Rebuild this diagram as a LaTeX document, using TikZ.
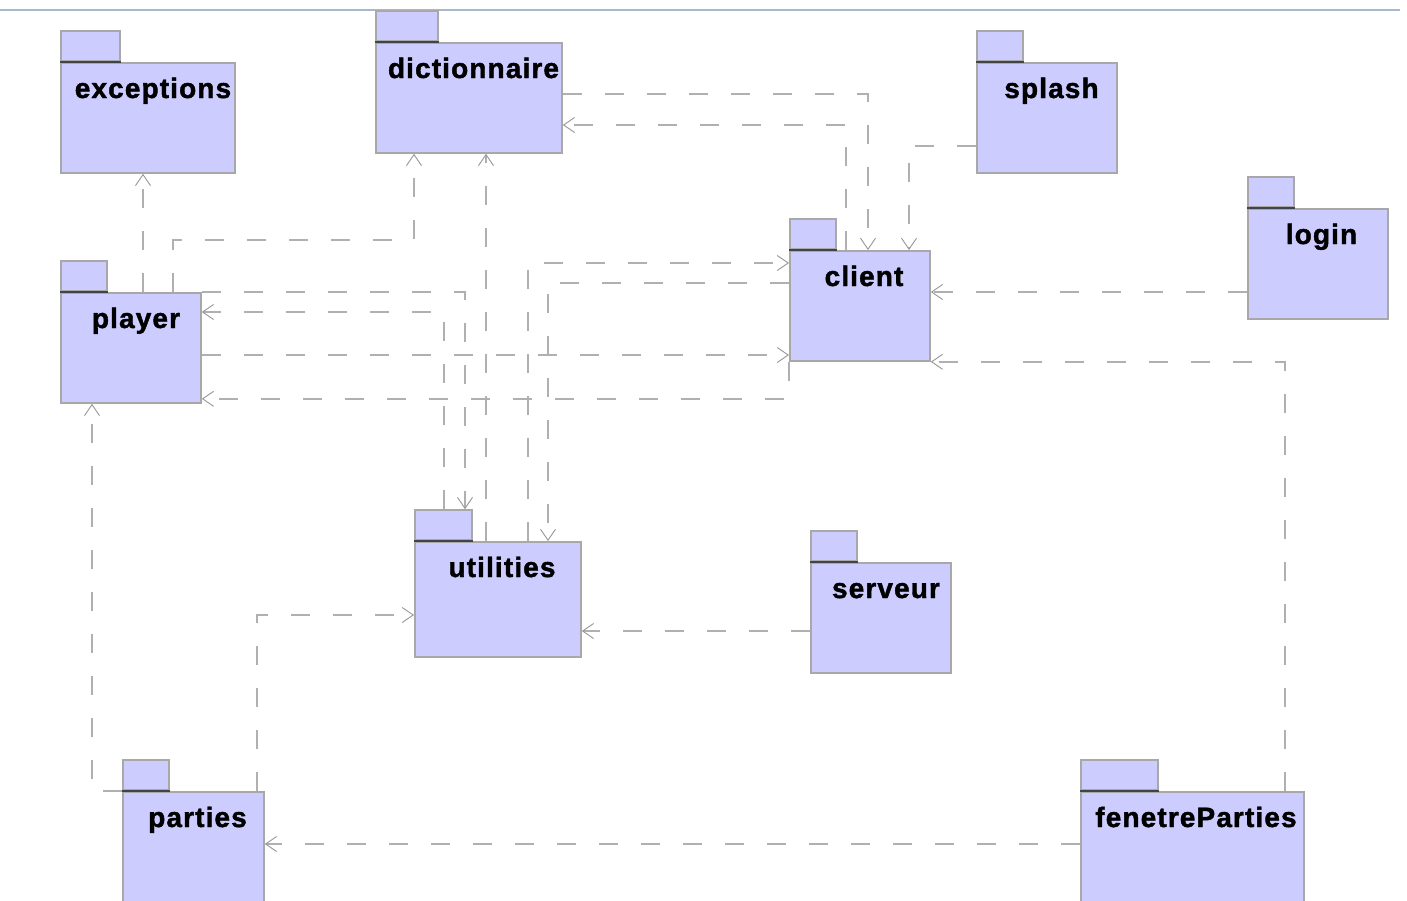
\documentclass[tikz,border=0pt]{standalone}
\usepackage{fontspec}
\usetikzlibrary{arrows.meta,calc}
\newfontfamily\pkgfont{Liberation Sans}[LetterSpace=4,FakeBold=1.5]
\definecolor{pkgfill}{HTML}{CCCCFF}
\definecolor{pkgedge}{HTML}{A8A8A8}
\definecolor{tabline}{HTML}{404448}
\definecolor{deplink}{HTML}{B0B0B0}
\definecolor{topline}{HTML}{A9B8CC}
\tikzset{
  pkgbody/.style={draw=pkgedge, fill=pkgfill, line width=1.8pt, rectangle,
    inner sep=0pt, anchor=north west},
  pkgtab/.style={draw=pkgedge, fill=pkgfill, line width=1.8pt, rectangle,
    inner sep=0pt, anchor=south west},
  pkglabel/.style={anchor=base, inner sep=0pt,
    font=\pkgfont\bfseries\fontsize{28}{30}\selectfont},
  dep/.style={draw=deplink, line width=1.4pt, dash pattern=on 19pt off 23pt,
    -{Straight Barb[length=11pt,width=15pt,line width=0.9pt,color=deplink!85!black]}},
}
% \umlpkg{name}{x}{y}{body w}{body h}{tab w}{text centre x}{label}
\newcommand{\umlpkg}[8]{%
  \node[pkgbody, minimum width=#4pt, minimum height=#5pt] (#1) at (#2,#3) {};
  \node[pkgtab, minimum width=#6pt, minimum height=30pt] (#1-tab) at (#2,#3) {};
  \draw[tabline, line width=1.6pt] (#1-tab.south west) -- (#1-tab.south east);
  \node[pkglabel] (#1-label) at (#7,#3+36) {#8};
}
\begin{document}
\begin{tikzpicture}[x=1pt,y=-1pt]
  \useasboundingbox (0,0) rectangle (1407,900);
  \draw[topline, line width=1.2pt] (0,10) -- (1400,10);

  % packages
  \umlpkg{exceptions}{60}{62}{174}{110}{59}{153}{exceptions}
  \umlpkg{dictionnaire}{375}{42}{186}{110}{62}{473.5}{dictionnaire}
  \umlpkg{splash}{976}{62}{140}{110}{46}{1051.5}{splash}
  \umlpkg{login}{1247}{208}{140}{110}{46}{1321.5}{login}
  \umlpkg{client}{789}{250}{140}{110}{46}{864}{client}
  \umlpkg{player}{60}{292}{140}{110}{46}{136}{player}
  \umlpkg{utilities}{414}{541}{166}{115}{57}{502}{utilities}
  \umlpkg{serveur}{810}{562}{140}{110}{46}{886}{serveur}
  \umlpkg{parties}{122}{791}{141}{120}{46}{197.5}{parties}
  \umlpkg{fenetreParties}{1080}{791}{223}{120}{77}{1196}{fenetreParties}

  % dependencies
  \draw[dep] ($(player.north west)+(83,0)$) -- ($(exceptions.south west)+(83,0)$);
  \draw[dep] ($(player.north west)+(113,0)$) -- ++(0,-52) -| ($(dictionnaire.south west)+(39,0)$);
  \draw[dep] ($(dictionnaire.north east)+(0,52)$) -| ($(client.north west)+(79,0)$);
  \draw[dep] ($(client.north west)+(57,0)$) |- ($(dictionnaire.north east)+(0,83)$);
  \draw[dep] ($(splash.north west)+(0,84)$) -| ($(client.north west)+(120,0)$);
  \draw[dep] ($(login.north west)+(0,84)$) -- ($(client.north east)+(0,42)$);
  \draw[dep] ($(fenetreParties.north west)+(205,0)$) |- (client.south east);
  \draw[dep] ($(fenetreParties.north west)+(0,53)$) -- ($(parties.north east)+(0,53)$);
  \draw[dep] (parties.north west) -| ($(player.south west)+(32,0)$);
  \draw[dep] ($(parties.north west)+(135,0)$) |- ($(utilities.north west)+(0,74)$);
  \draw[dep] ($(serveur.north west)+(0,69)$) -- ($(utilities.north east)+(0,90)$);
  \draw[dep] (player.north east) -| ($(utilities-tab.north west)+(51,0)$);
  \draw[dep] ($(utilities-tab.north west)+(30,0)$) |- ($(player.north east)+(0,20)$);
  \draw[dep] ($(utilities.north west)+(72,0)$) -- ($(dictionnaire.south west)+(111,0)$);
  \draw[dep] ($(player.north east)+(0,63)$) -- ($(client.north west)+(0,105)$);
  \draw[dep] (client.south west) |- ($(player.south east)+(0,-5)$);
  \draw[dep] ($(utilities.north west)+(114,0)$) |- ($(client.north west)+(0,13)$);
  \draw[dep] ($(client.north west)+(0,33)$) -| ($(utilities.north west)+(134,0)$);
\end{tikzpicture}
\end{document}
